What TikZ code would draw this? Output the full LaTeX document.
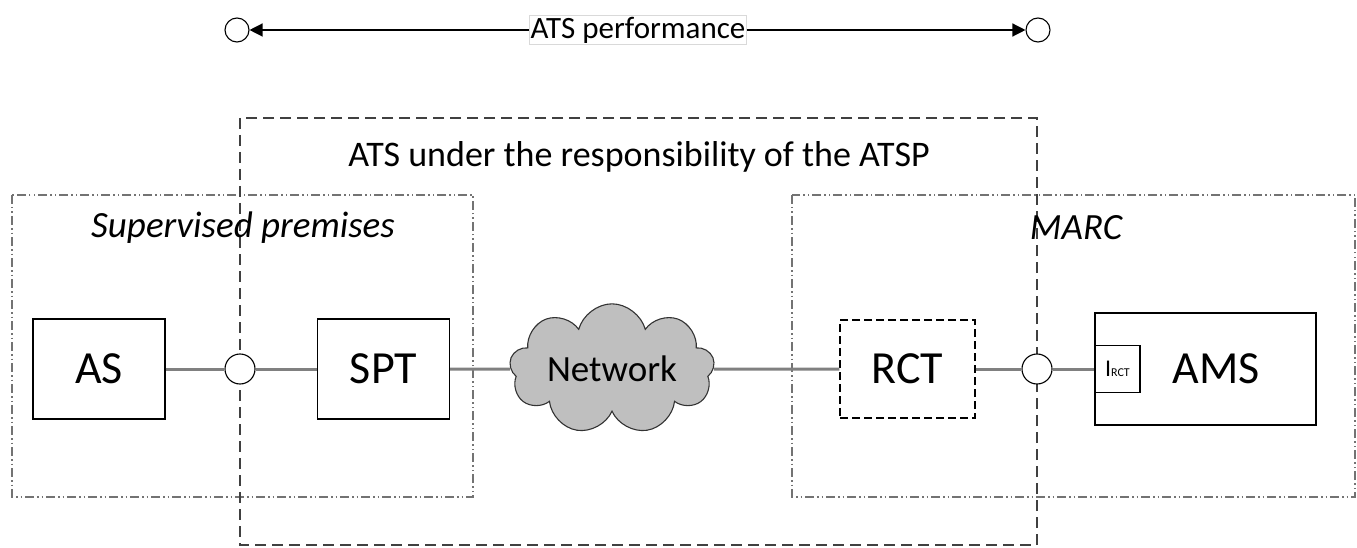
\documentclass[tikz,border=0pt]{standalone}
\usepackage{fontspec}
\setmainfont{Carlito}
\usetikzlibrary{shapes.symbols,arrows.meta}
\tikzset{
  x=1pt,y=-1pt,
  blockbox/.style={draw=black,line width=1.4pt,fill=white,minimum width=132pt,minimum height=100pt,font=\fontsize{46}{48}\selectfont},
  portcircle/.style={circle,draw=black,line width=1.1pt,fill=white,minimum size=30pt,inner sep=0pt},
  endcircle/.style={circle,draw=black,line width=1.1pt,fill=white,minimum size=24pt,inner sep=0pt},
  wire/.style={draw=black!50,line width=3pt},
  zonebox/.style={draw=black!55,line width=1.3pt,dash pattern=on 9pt off 3pt on 1.5pt off 3pt on 1.5pt off 3pt},
  atspbox/.style={draw=black!75,line width=1.3pt,dash pattern=on 11pt off 6pt},
}
\begin{document}
\begin{tikzpicture}
\useasboundingbox (0,0) rectangle (1357,548);

% zones
\draw[zonebox] (12,195) rectangle (473,497);
\draw[zonebox] (792,195) rectangle (1355,497);
\draw[atspbox] (240,118) rectangle (1037,545);

\node[font=\fontsize{36}{38}\selectfont] (atsptitle) at (639,157) {ATS under the responsibility of the ATSP};
\node[font=\itshape\fontsize{37}{39}\selectfont] (premtitle) at (243,228) {Supervised premises};
\node[font=\itshape\fontsize{37}{39}\selectfont] (marctitle) at (1076,228) {MARC};

% blocks, all centred on the same horizontal line
\node[blockbox] (as) at (99,369) {AS};
\node[blockbox] (spt) at (383.5,369) {SPT};
\node[cloud,cloud puffs=9,aspect=2.1,draw=black!80,line width=1.1pt,fill=black!25,minimum width=205pt,minimum height=104pt,inner sep=0pt,font=\fontsize{37}{39}\selectfont] (net) at (612,369) {Network};
\node[blockbox,dash pattern=on 8pt off 4pt,minimum width=135pt,minimum height=98pt] (rct) at (907.5,369) {RCT};
\node[blockbox,minimum width=221pt,minimum height=112pt] (ams) at (1205.5,369) {\hspace*{22pt}AMS};
\node[draw=black,line width=1.2pt,fill=white,minimum width=45pt,minimum height=47pt,inner sep=0pt,anchor=west,font=\fontsize{24}{24}\selectfont] (irct) at (ams.west) {I\raisebox{0.5pt}{\fontsize{12}{12}\selectfont RCT}};

\node[portcircle] (p1) at (240,369) {};
\node[portcircle] (p2) at (1037,369) {};

% links
\draw[wire] (as.east) -- (p1.west);
\draw[wire] (p1.east) -- (spt.west);
\draw[wire] (spt.east) -- (net.west);
\draw[wire] (net.east) -- (rct.west);
\draw[wire] (rct.east) -- (p2.west);
\draw[wire] (p2.east) -- (irct.west);

% performance span
\node[endcircle] (c1) at (237,30) {};
\node[endcircle] (c2) at (1038,30) {};
\node[draw=black!15,line width=1pt,fill=white,inner sep=1pt,minimum height=28pt,font=\fontsize{31}{33}\selectfont] (perf) at (638,30) {ATS performance};
\draw[line width=1.3pt,-{Triangle[length=13pt,width=13pt]}] (perf.west) -- (c1.east);
\draw[line width=1.3pt,-{Triangle[length=13pt,width=13pt]}] (perf.east) -- (c2.west);
\end{tikzpicture}
\end{document}
